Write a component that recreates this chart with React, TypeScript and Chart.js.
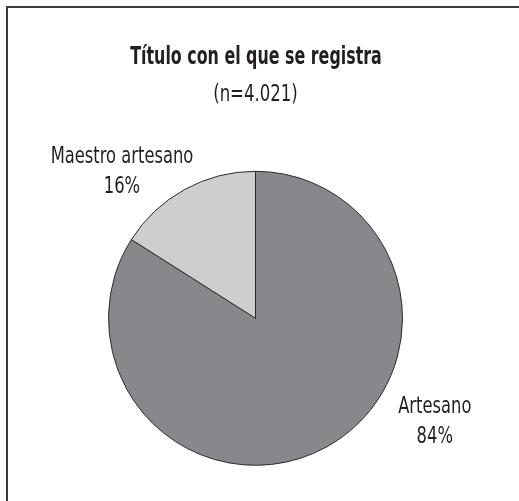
import React, { useEffect, useRef } from "react";
import { Chart, registerables } from "chart.js";

Chart.register(...registerables);

const categories = ["Artesano", "Maestro artesano"];
const shares = [84, 16];
const percentLabels = ["84%", "16%"];
const titleText = "Título con el que se registra";
const subtitleText = "(n=4.021)";

const FONT = "'DejaVu Sans Condensed', 'Liberation Sans Narrow', sans-serif";
const TEXT = "#231f20";
// label placement per slice: angle (deg, canvas coords) and distance beyond radius
const labelPlacement = [
  { angle: 30, extra: 60 },
  { angle: -132.4, extra: 51 },
];

function squeezedText(ctx: CanvasRenderingContext2D, text: string, x: number, y: number, sx: number) {
  ctx.save();
  ctx.translate(x, y);
  ctx.scale(sx, 1);
  ctx.fillText(text, 0, 0);
  ctx.restore();
}

const textPlugin = {
  id: "textPlugin",
  afterDatasetsDraw(chart: any) {
    const meta = chart.getDatasetMeta(0);
    const ctx = chart.ctx as CanvasRenderingContext2D;
    const area = chart.chartArea;
    const midX = (area.left + area.right) / 2;
    ctx.save();
    ctx.fillStyle = TEXT;
    ctx.textAlign = "center";
    ctx.textBaseline = "middle";
    ctx.font = `bold 24px ${FONT}`;
    squeezedText(ctx, titleText, midX + 0.5, 58, 0.735);
    ctx.font = `23px ${FONT}`;
    squeezedText(ctx, subtitleText, midX, 95, 0.8);
    meta.data.forEach((arc: any, i: number) => {
      const { x, y, outerRadius } = arc.getProps(["x", "y", "outerRadius"], true);
      const p = labelPlacement[i];
      const a = (p.angle * Math.PI) / 180;
      const d = outerRadius + p.extra;
      const cx = x + Math.cos(a) * d;
      const cy = y + Math.sin(a) * d;
      squeezedText(ctx, categories[i], cx, cy - 15, 0.79);
      squeezedText(ctx, percentLabels[i], cx, cy + 15, 0.79);
    });
    ctx.restore();
  },
};

export default function App() {
  const ref = useRef<HTMLCanvasElement>(null);
  useEffect(() => {
    if (!ref.current) return;
    const chart = new Chart(ref.current, {
      type: "pie",
      data: {
        labels: categories,
        datasets: [
          {
            data: shares,
            backgroundColor: ["#87888c", "#cdced0"],
            borderColor: "#2b2b2b",
            borderWidth: 1,
          },
        ],
      },
      options: {
        responsive: false,
        animation: false,
        events: [],
        layout: { padding: { left: 108, right: 116, top: 170.8, bottom: 35.2 } },
        plugins: {
          legend: { display: false },
          tooltip: { enabled: false },
          title: { display: false },
          subtitle: { display: false },
        },
      },
      plugins: [textPlugin],
    });
    return () => chart.destroy();
  }, []);
  return (
    <div style={{ position: "absolute", left: 0, top: 0, width: 519, height: 501, overflow: "hidden", background: "#fff" }}>
      <div style={{ position: "absolute", left: 6, top: 6, width: 513, height: 495, borderTop: "2px solid #3a3a3a", borderLeft: "2px solid #3a3a3a" }} />
      <canvas ref={ref} width={519} height={501} style={{ position: "absolute", left: 0, top: 0, width: 519, height: 501 }} />
    </div>
  );
}
